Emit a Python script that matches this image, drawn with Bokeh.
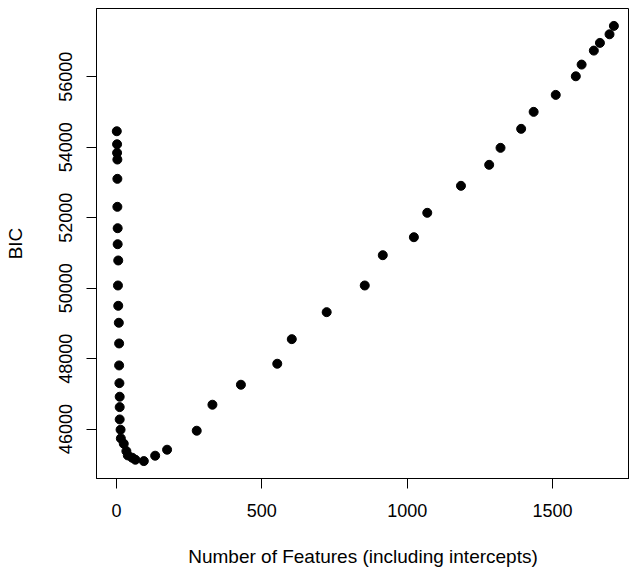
from bokeh.plotting import figure
from bokeh.models import Range1d, FixedTicker, ColumnDataSource
from bokeh.embed import file_html
from bokeh.resources import INLINE

# Number of features (including intercepts) for each fitted model
features = [1, 2, 2, 3, 3, 3, 4, 4, 6, 5, 6, 8, 9, 9, 10, 11, 11, 11, 14, 15,
            25, 34, 39, 54, 65, 94, 133, 174,
            276, 330, 428, 553, 603, 723, 854, 916, 1023, 1069, 1185, 1282,
            1321, 1392, 1435, 1511, 1580, 1600, 1642, 1663, 1696, 1711]
# BIC of each model
bic = [54454, 54085, 53841, 53651, 53103, 52309, 51702, 51248, 50786, 50076,
       49500, 49018, 48431, 47807, 47305, 46919, 46624, 46275, 45983, 45736,
       45585, 45375, 45253, 45188, 45131, 45092, 45245, 45415,
       45954, 46692, 47259, 47855, 48553, 49319, 50076, 50936, 51447, 52139,
       52905, 53501, 53983, 54522, 55004, 55486, 56014, 56346, 56743, 56962,
       57206, 57444]

x_ticks = [0, 500, 1000, 1500]
y_ticks = [46000, 48000, 50000, 52000, 54000, 56000]

FONT = "Liberation Sans"

p = figure(width=629, height=572, output_backend="svg", toolbar_location=None,
           x_range=Range1d(-68.8, 1764.7), y_range=Range1d(44598, 57938),
           min_border_left=96, min_border_right=0, min_border_top=8,
           min_border_bottom=94)

src = ColumnDataSource(dict(x=features, y=bic))
p.scatter("x", "y", source=src, size=9, fill_color="black", line_color="black")

p.xgrid.visible = False
p.ygrid.visible = False
p.outline_line_color = "black"
p.outline_line_width = 1
p.background_fill_color = "white"
p.border_fill_color = "white"

p.xaxis.ticker = FixedTicker(ticks=x_ticks)
p.yaxis.ticker = FixedTicker(ticks=y_ticks)
p.xaxis.axis_label = "Number of Features (including intercepts)"
p.yaxis.axis_label = "BIC"
p.yaxis.major_label_orientation = "vertical"

for ax in (p.xaxis[0], p.yaxis[0]):
    ax.axis_line_color = "black"
    ax.major_tick_line_color = "black"
    ax.major_tick_out = 10
    ax.major_tick_in = 0
    ax.minor_tick_line_color = None
    ax.major_label_text_font = FONT
    ax.major_label_text_font_size = "18px"
    ax.major_label_text_color = "black"
    ax.axis_label_text_font = FONT
    ax.axis_label_text_font_size = "19px"
    ax.axis_label_text_font_style = "normal"
    ax.axis_label_text_color = "black"

p.xaxis.major_label_standoff = 15
p.xaxis.axis_label_standoff = 26
p.yaxis.major_label_standoff = 14
p.yaxis.axis_label_standoff = 31

open("out.html", "w").write(file_html(p, INLINE))
